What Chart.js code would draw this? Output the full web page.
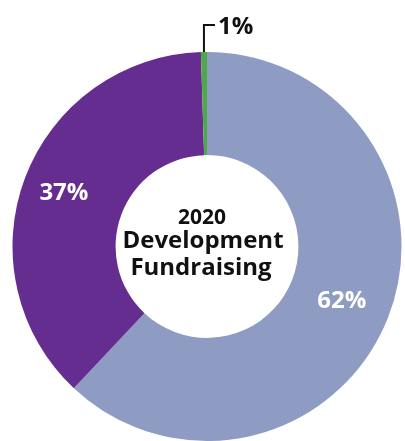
<!DOCTYPE html>
<html>
<head>
<meta charset="utf-8">
<script src="https://cdn.jsdelivr.net/npm/chart.js@4"></script>
<style>
  html, body { margin: 0; padding: 0; background: #fff; }
  #wrap { width: 405px; height: 441px; }
</style>
</head>
<body>
<div id="wrap"><canvas id="myCanvas"></canvas></div>
<script>
'use strict';

// chart data
const categories = ['Other', 'Development A', 'Development B'];
const shares = [62, 37.5, 0.5];
const shareLabels = ['62%', '37%', '1%'];
const centerTitle = ['2020', 'Development', 'Fundraising'];

const sliceColors = ['#8e9cc3', '#662d91', '#4fa84a'];
const fontFamily = '"Open Sans", "Noto Sans", sans-serif';

// draws the % labels, the leader line for the tiny slice and the centre text
const labelPlugin = {
  id: 'labels',
  afterDatasetsDraw(chart) {
    const ctx = chart.ctx;
    const arcs = chart.getDatasetMeta(0).data;
    ctx.save();
    ctx.textAlign = 'center';
    ctx.textBaseline = 'middle';

    for (let i = 0; i < arcs.length; i++) {
      const arc = arcs[i];
      const mid = (arc.startAngle + arc.endAngle) / 2;
      if (i === 2) {
        // small slice: leader line up from the outer edge
        const x0 = arc.x + arc.outerRadius * Math.cos(mid);
        const y0 = arc.y + arc.outerRadius * Math.sin(mid);
        ctx.strokeStyle = '#111';
        ctx.lineWidth = 2;
        ctx.beginPath();
        ctx.moveTo(x0, y0);
        ctx.lineTo(x0, y0 - 27);
        ctx.lineTo(x0 + 11, y0 - 27);
        ctx.stroke();
        ctx.fillStyle = '#111';
        ctx.font = 'bold 24px ' + fontFamily;
        ctx.textAlign = 'left';
        ctx.fillText(shareLabels[i], x0 + 14, y0 - 25);
        ctx.textAlign = 'center';
      } else {
        const r = (arc.innerRadius + arc.outerRadius) / 2 + (i === 1 ? 10 : 2);
        ctx.fillStyle = '#fff';
        ctx.font = 'bold 24px ' + fontFamily;
        ctx.fillText(shareLabels[i], arc.x + r * Math.cos(mid), arc.y + r * Math.sin(mid) + 1);
      }
    }

    // centre title
    const cx = arcs[0].x;
    const cy = arcs[0].y;
    ctx.fillStyle = '#111';
    ctx.font = 'bold 21px ' + fontFamily;
    ctx.fillText(centerTitle[0], cx - 5, cy - 28);
    ctx.font = 'bold 24px ' + fontFamily;
    ctx.fillText(centerTitle[1], cx - 4, cy - 5);
    ctx.fillText(centerTitle[2], cx - 6, cy + 22);
    ctx.restore();
  }
};

const data = {
  labels: categories,
  datasets: [{
    data: shares,
    backgroundColor: sliceColors,
    borderWidth: 0
  }]
};

const config = {
  type: 'doughnut',
  data: data,
  options: {
    responsive: true,
    maintainAspectRatio: false,
    animation: false,
    cutout: '47%',
    layout: {
      padding: { left: 12, right: 3, top: 52, bottom: 0 }
    },
    plugins: {
      legend: { display: false },
      tooltip: { enabled: false }
    }
  },
  plugins: [labelPlugin]
};

const myChart = new Chart(document.getElementById('myCanvas'), config);
</script>
</body>
</html>
